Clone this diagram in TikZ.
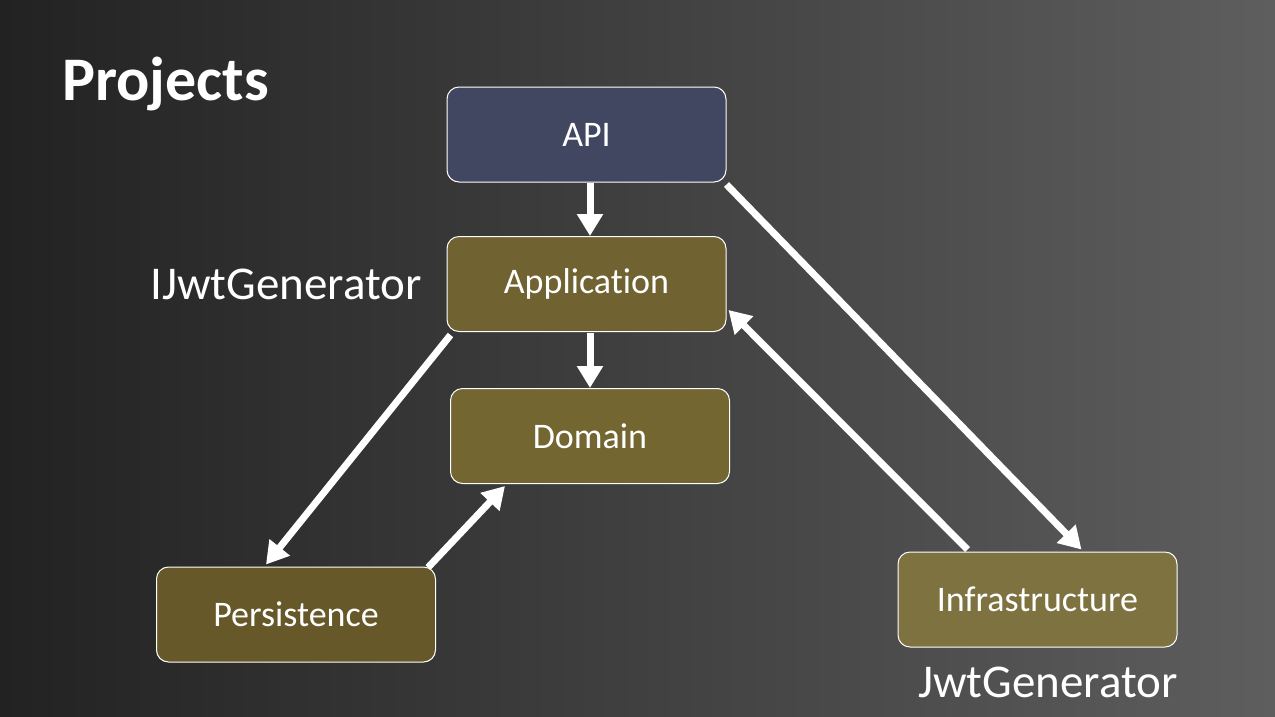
\documentclass[tikz,border=0pt]{standalone}
\usepackage{fontspec}
\setmainfont{Carlito}[RawFeature=-liga]
\usetikzlibrary{arrows.meta,calc}
\definecolor{bgl}{HTML}{222222}
\definecolor{bgr}{HTML}{5E5E5E}
\definecolor{apic}{HTML}{424761}
\definecolor{appc}{HTML}{706331}
\definecolor{domc}{HTML}{736631}
\definecolor{perc}{HTML}{675829}
\definecolor{infc}{HTML}{7E7241}
\begin{document}
\begin{tikzpicture}[x=1pt,y=-1pt,
  box/.style={draw=white, line width=1pt, rounded corners=12pt, minimum width=279pt, minimum height=95pt, text=white, font=\fontsize{36}{40}\selectfont, inner sep=0pt},
  lbl/.style={text=white, font=\fontsize{47}{52}\selectfont, inner sep=0pt},
  ttl/.style={text=white, font=\bfseries\fontsize{62}{68}\selectfont, inner sep=0pt},
  arr/.style={draw=white, line width=7pt, -{Triangle[width=25pt,length=22pt]}},
]
\fill[left color=bgl, right color=bgr] (0,0) rectangle (1275,716);
\node[box, fill=apic] (api) at (586.5,134.5) {API};
\node[box, fill=appc] (app) at (586.5,284) {Application};
\node[box, fill=domc] (dom) at (590,436) {Domain};
\node[box, fill=perc] (per) at (296,614.5) {Persistence};
\node[box, fill=infc] (inf) at (1037.5,599.5) {Infrastructure};
\node[lbl, anchor=base east] (il) at (422,299) {IJwtGenerator};
\node[lbl, anchor=base east] (jl) at (1178,697) {JwtGenerator};
\node[ttl, anchor=base west] (tt) at (62,100) {Projects};
\draw[arr] ($(api.south)+(3.5,0)$) -- ($(app.north)+(3.5,0)$);
\draw[arr] ($(app.south)+(3.5,1)$) -- (dom.north);
\draw[arr] ($(app.south west)+(4,3)$) -- ($(per.north west)+(110,-2)$);
\draw[arr] ($(per.north east)+(-8,1)$) -- ($(dom.south west)+(55,2)$);
\draw[arr] ($(inf.north west)+(70,-2)$) -- ($(app.south east)+(2,-22)$);
\draw[arr] ($(api.south east)+(0,2)$) -- ($(inf.north west)+(184,-2)$);
\end{tikzpicture}
\end{document}
